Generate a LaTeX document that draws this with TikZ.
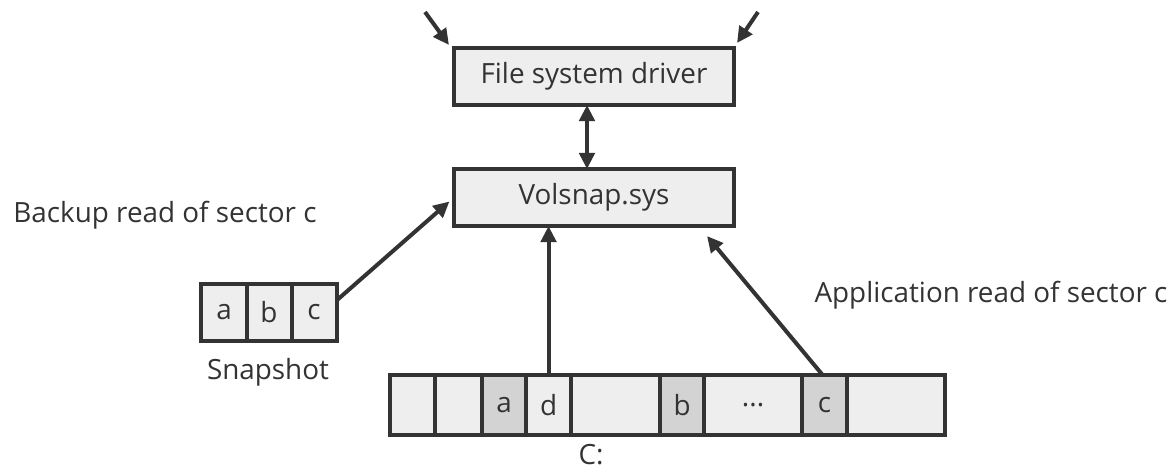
\documentclass[tikz,border=0pt]{standalone}
\usepackage{fontspec}
\setmainfont{Open Sans}
\usepackage{tikz}
\usetikzlibrary{arrows.meta,positioning}
\definecolor{ink}{HTML}{333333}
\definecolor{pale}{HTML}{EEEEEE}
\definecolor{shade}{HTML}{D3D3D3}

\begin{document}
\begin{tikzpicture}[x=0.025cm,y=-0.025cm,font=\fontsize{19.8}{23}\selectfont,text=ink,
  >={Triangle[length=0.4cm,width=0.38cm]},
  b/.style={draw=ink,line width=0.1cm,fill=pale,outer sep=0pt,inner sep=0pt,minimum height=1.425cm},
  cell/.style={b,minimum height=1.5cm},
  arr/.style={->,line width=0.1cm,draw=ink}]
\useasboundingbox (0,0) rectangle (1174,470);
\node[b,minimum width=7.0cm] (fsd) at (594,76.5) {File system driver};
\node[b,minimum width=7.0cm] (vol) at (594,197.5) {Volsnap.sys};
% snapshot copy
\node[b,minimum width=1.125cm] (s1) at (224,312.5) {a};
\node[b,minimum width=1.125cm,right=0pt of s1] (s2) {b};
\node[b,minimum width=1.125cm,right=0pt of s2] (s3) {c};
\node (snap) at (268,372) {Snapshot};
% volume C:
\node[cell,minimum width=1.125cm] (c1) at (412.5,405) {};
\node[cell,minimum width=1.175cm,right=0pt of c1] (c2) {};
\node[cell,minimum width=1.1cm,fill=shade,right=0pt of c2] (c3) {a};
\node[cell,minimum width=1.125cm,right=0pt of c3] (c4) {d};
\node[cell,minimum width=2.225cm,right=0pt of c4] (c5) {};
\node[cell,minimum width=1.1cm,fill=shade,right=0pt of c5] (c6) {b};
\node[cell,minimum width=2.45cm,right=0pt of c6] (c7) {...};
\node[cell,minimum width=1.125cm,fill=shade,right=0pt of c7] (c8) {c};
\node[cell,minimum width=2.45cm,right=0pt of c8] (c9) {};
\node[inner sep=0pt] (vollbl) at (591,455) {C:};
% labels
\node (bkp) at (165,215) {Backup read of sector c};
\node (app) at (991,295) {Application read of sector c};
% arrows
\coordinate (srcL) at (425,12);
\coordinate (srcR) at (758,12);
\coordinate (appTip) at (707,236);
\draw[arr] (srcL) -- ([shift={(-5,-3)}]fsd.north west);
\draw[arr] (srcR) -- ([shift={(3,-5)}]fsd.north east);
\draw[arr,<->] ([xshift=-0.175cm]fsd.south) -- ([xshift=-0.175cm]vol.north);
\draw[arr,shorten >=0.15cm] ([yshift=0.3cm]s3.east) -- (vol.west);
\draw[arr] (c4.north) -- (c4.north |- vol.south);
\draw[arr] ([xshift=-0.05cm]c8.north) -- (appTip);
\end{tikzpicture}
\end{document}
